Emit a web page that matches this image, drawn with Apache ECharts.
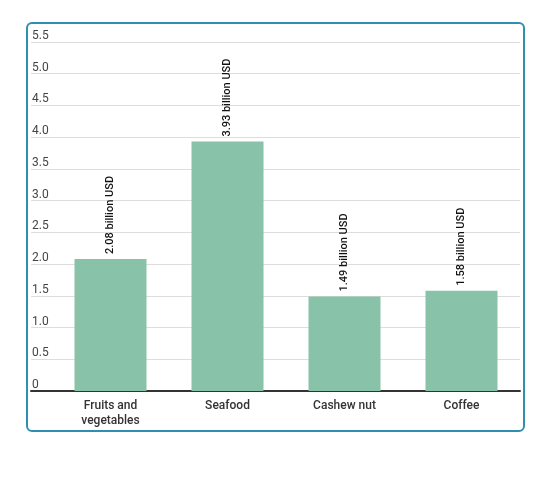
<!DOCTYPE html>
<html>
<head>
<meta charset="utf-8">
<script src="https://cdn.jsdelivr.net/npm/echarts@6/dist/echarts.min.js"></script>
<style>
  body { margin: 0; background: #fff; }
  #图表 { width: 550px; height: 480px; }
  #边框 { position: absolute; left: 26px; top: 22px; width: 495px; height: 406px;
    border: 2px solid #2e8fb0; border-radius: 6px; pointer-events: none; }
</style>
</head>
<body>
<div id="图表"></div>
<div id="边框"></div>
<script>
const 类别 = ["Fruits and\nvegetables", "Seafood", "Cashew nut", "Coffee"];
const 数值 = [2.08, 3.93, 1.49, 1.58];
const 单位 = " billion USD";

const myChart = echarts.init(document.getElementById("图表"));

const option = {
  animation: false,
  textStyle: { fontFamily: "Roboto" },
  grid: [
    { left: 31, top: 42, width: 489, height: 349 },
    { left: 52, top: 42, width: 468, height: 349 },
  ],
  xAxis: [
    {
      gridIndex: 0, type: "value", min: 0, max: 1,
      axisLine: { show: true, lineStyle: { color: "#333", width: 2 } },
      axisTick: { show: false }, axisLabel: { show: false }, splitLine: { show: false },
    },
    {
      gridIndex: 1, type: "category", data: 类别,
      axisLine: { show: false }, axisTick: { show: false },
      axisLabel: { color: "#333", fontSize: 12, fontWeight: 500, margin: 7, lineHeight: 15 },
    },
  ],
  yAxis: [
    {
      gridIndex: 0, type: "value", min: 0, max: 5.5, interval: 0.5,
      axisLine: { show: false }, axisTick: { show: false },
      axisLabel: {
        inside: true, margin: 1, verticalAlign: "bottom", color: "#444", fontSize: 12,
        formatter: (v) => (v === 0 ? "0" : v.toFixed(1)),
      },
      splitLine: { lineStyle: { color: "#ddd" } },
    },
    { gridIndex: 1, type: "value", min: 0, max: 5.5, show: false },
  ],
  series: [
    {
      type: "bar", xAxisIndex: 1, yAxisIndex: 1, data: 数值, barWidth: 72,
      itemStyle: { color: "#88c2a8" },
      label: {
        show: true, position: "top", rotate: 90, align: "left", verticalAlign: "middle",
        distance: 5, color: "#111", fontSize: 11, fontWeight: 500,
        formatter: (p) => p.value.toFixed(2) + 单位,
      },
    },
  ],
};

myChart.setOption(option);
</script>
</body>
</html>
